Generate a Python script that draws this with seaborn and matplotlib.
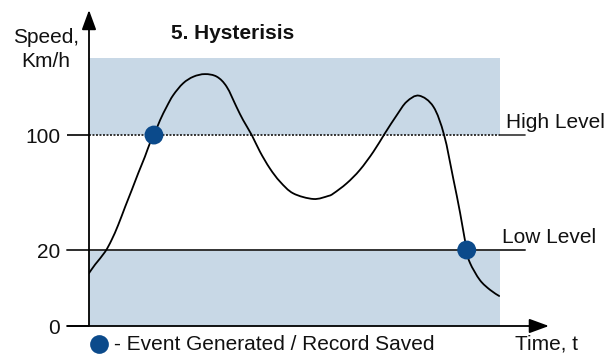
import numpy as np
import pandas as pd
import matplotlib
matplotlib.use("Agg")
import matplotlib.pyplot as plt
import matplotlib.transforms as mtransforms
from matplotlib.path import Path
from matplotlib.patches import PathPatch, Rectangle
import seaborn as sns

# Speed profile over time (time in arbitrary units 0..100, speed in km/h)
time = [0.0, 1.5, 3.9, 5.5, 7.1, 8.8, 10.4, 12.0, 13.6, 14.8, 15.8, 17.3,
        18.9, 20.5, 22.9, 25.4, 28.2, 31.1, 33.5, 35.9, 37.5, 39.6, 41.6,
        44.0, 46.5, 49.7, 54.6, 58.2, 59.5, 62.7, 65.9, 69.2, 72.0, 74.9,
        77.3, 80.3, 83.8, 86.4, 88.6, 90.3, 91.9, 92.7, 95.1, 97.6, 99.8]
speed = [13.9, 16.2, 19.5, 27.0, 37.4, 50.1, 61.7, 73.6, 84.9, 94.2, 100.0, 110.4,
         119.7, 127.8, 136.0, 140.6, 142.4, 140.6, 133.6, 119.5, 110.4, 100.0, 88.4,
         76.8, 67.5, 59.4, 55.5, 57.6, 59.4, 66.4, 75.7, 88.4, 101.2, 113.9,
         123.2, 127.4, 119.7, 100.0, 70.1, 45.7, 20.0, 16.6, 12.1, 9.5, 7.9]

# Threshold levels and recorded events
high_level = 100
low_level = 20
zone_top = 153.6
event_time = [15.8, 91.9]
event_speed = [100, 20]
ytick_values = [0, 20, 100]
ytick_labels = ["0", "20", "100"]

shade = "#c8d8e6"
navy = "#0b4a8b"
ink = "#111111"

sns.set_theme(style="white")
plt.rcParams["font.family"] = ["Liberation Sans", "DejaVu Sans"]

fig = plt.figure(figsize=(6.05, 3.56), dpi=100)
ax = fig.add_axes([89 / 605, 30 / 356, 411 / 605, 268 / 356])
ax.set_facecolor("white")

# Schematic (non-linear) speed axis: stretched below the low level
KNOTS_V = [0, 20, 300]
KNOTS_P = [0, 76, 76 + 280 * 1.4375]

def fwd(v):
    return np.interp(v, KNOTS_V, KNOTS_P)

def inv(p):
    return np.interp(p, KNOTS_P, KNOTS_V)

ax.set_yscale("function", functions=(fwd, inv))
ax.set_xlim(0, 100)
ax.set_ylim(0, zone_top)

def yfrac(v):
    """Speed value -> vertical axes fraction, via the axes' own scale."""
    pt = ax.transScale.transform([[0.0, v]])
    return ax.transLimits.transform(pt)[0, 1]

# Shaded zones above high level and below low level, clear band in between
for lo, hi in [(high_level, zone_top), (0, low_level)]:
    y0, y1 = yfrac(lo), yfrac(hi)
    ax.add_patch(Rectangle((0, y0), 1, y1 - y0, transform=ax.transAxes,
                           facecolor=shade, edgecolor="none", zorder=0))
y0, y1 = yfrac(low_level), yfrac(high_level)
ax.add_patch(Rectangle((0, y0), 1, y1 - y0, transform=ax.transAxes,
                       facecolor="white", edgecolor="none", zorder=0.2))

blend = mtransforms.blended_transform_factory(ax.transAxes, ax.transData)
ax.plot([0, 1], [high_level, high_level], transform=blend, color="#333333",
        lw=1.4, ls=(0, (1, 0.8)), zorder=1)
ax.plot([1, 1.061], [high_level, high_level], transform=blend, color="#333333",
        lw=1.2, clip_on=False, zorder=1)
ax.plot([-0.0535, 1.061], [low_level, low_level], transform=blend, color="#333333",
        lw=1.4, clip_on=False, zorder=1)

# Speed curve: smooth Catmull-Rom path through the profile points,
# built in scaled space so it stays smooth across the axis breakpoint
df = pd.DataFrame({"time": time, "speed": speed})
tx = df["time"].to_numpy(float) * 4.11
ty = fwd(df["speed"].to_numpy(float))
pts = np.column_stack([tx, ty])
ext = np.vstack([pts[0], pts, pts[-1]])
verts = [pts[0]]
codes = [Path.MOVETO]
for i in range(1, len(ext) - 2):
    p0, p1, p2, p3 = ext[i - 1], ext[i], ext[i + 1], ext[i + 2]
    c1 = p1 + (p2 - p0) / 6.0
    c2 = p2 - (p3 - p1) / 6.0
    verts += [c1, c2, p2]
    codes += [Path.CURVE4] * 3
verts = np.array(verts)
verts[:, 0] /= 4.11
verts[:, 1] = inv(verts[:, 1])
ax.add_patch(PathPatch(Path(verts, codes), fill=False, ec="black", lw=1.3,
                       zorder=3, capstyle="round"))

sns.scatterplot(x=event_time, y=event_speed, s=185, color=navy,
                edgecolor="none", ax=ax, zorder=4, clip_on=False)

# Axes with arrowheads
for s in ax.spines.values():
    s.set_visible(False)
arrow = dict(arrowstyle="-|>,head_length=0.6,head_width=0.22", color="black",
             lw=1.3, shrinkA=0, shrinkB=0, mutation_scale=20)
ax.annotate("", xy=(0, 1.179), xytext=(0, 0), xycoords="axes fraction",
            textcoords="axes fraction", arrowprops=arrow)
ax.annotate("", xy=(1.119, 0), xytext=(-0.0535, 0), xycoords="axes fraction",
            textcoords="axes fraction", arrowprops=arrow)

ax.set_yticks(ytick_values)
ax.set_yticklabels(ytick_labels)
ax.set_xticks([])
ax.tick_params(axis="y", length=15.8, width=1.2, color="black", pad=5,
               labelsize=15, labelcolor=ink, left=True)
ax.set_xlabel("")
ax.set_ylabel("")

ax.text(0.1995, 1.093, "5. Hysterisis", transform=ax.transAxes, fontsize=15,
        fontweight="bold", color=ink, ha="left", va="center")
ax.text(-0.1046, 1.032, "Speed,\nKm/h", transform=ax.transAxes, fontsize=15,
        color=ink, ha="center", va="center", linespacing=1.32)
ax.text(1.0146, 0.761, "High Level", transform=ax.transAxes, fontsize=15,
        color=ink, ha="left", va="center")
ax.text(1.005, 0.332, "Low Level", transform=ax.transAxes, fontsize=15,
        color=ink, ha="left", va="center")
ax.text(1.0365, -0.0672, "Time, t", transform=ax.transAxes, fontsize=15,
        color=ink, ha="left", va="center")
ax.plot([0.0243], [-0.0672], "o", ms=13.5, color=navy, mec="none",
        transform=ax.transAxes, clip_on=False)
ax.text(0.0608, -0.0672, "- Event Generated / Record Saved", transform=ax.transAxes,
        fontsize=15, color=ink, ha="left", va="center")

fig.savefig("out.png", dpi=100)
